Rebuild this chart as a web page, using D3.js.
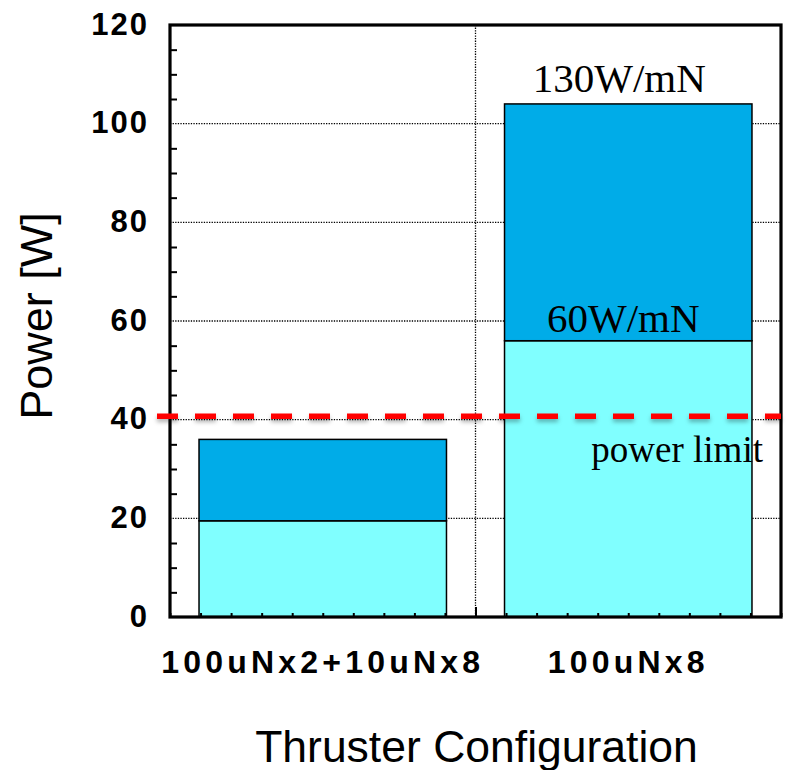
<!DOCTYPE html>
<html>
<head>
<meta charset="utf-8">
<script src="https://cdn.jsdelivr.net/npm/d3@7"></script>
<style>
  body { margin: 0; background: #fff; }
  svg { display: block; }
</style>
</head>
<body>
<div id="chart"></div>
<script>
// data
var categories = ["100uNx2+10uNx8", "100uNx8"];
var basePower = [19.5, 56];     // light cyan part
var extraPower = [16.5, 48];    // dark blue part on top
var yTickValues = [0, 20, 40, 60, 80, 100, 120];
var powerLimit = 40.7;
var specLabels = ["60W/mN", "130W/mN"];

// set the dimensions and margins of the graph
var margin = {top: 25, right: 6, bottom: 153, left: 170},
    width = 787 - margin.left - margin.right,
    height = 770 - margin.top - margin.bottom;

var x = d3.scaleBand().domain(categories).range([0, width])
    .paddingInner(0.19).paddingOuter(0.095);
var y = d3.scaleLinear().domain([0, 120]).range([height, 0]);
var xm = d3.scaleLinear().domain([0, 20]).range([0, width]);

var rows = categories.map(function(c, i) {
    return { cat: c, base: basePower[i], top: basePower[i] + extraPower[i] };
});

var svg = d3.select("#chart").append("svg")
    .attr("width", 787)
    .attr("height", 770);

// soft shadow under the red dashes (user space, the line has no height)
var defs = svg.append("defs");
var shadow = defs.append("filter").attr("id", "shadow")
    .attr("filterUnits", "userSpaceOnUse")
    .attr("x", -30).attr("y", -30).attr("width", 700).attr("height", 700);
shadow.append("feDropShadow")
    .attr("dx", 0).attr("dy", 3).attr("stdDeviation", 2)
    .attr("flood-color", "#000").attr("flood-opacity", 0.3);

var g = svg.append("g")
    .attr("transform", "translate(" + margin.left + "," + margin.top + ")");

// dotted grid
g.append("g").selectAll("line")
    .data(yTickValues.filter(function(v) { return v > 0 && v < 120; }))
    .enter().append("line")
    .attr("x1", 0).attr("x2", width)
    .attr("y1", function(d) { return y(d); })
    .attr("y2", function(d) { return y(d); })
    .attr("stroke", "#000").attr("stroke-width", 1.3)
    .attr("stroke-dasharray", "1.3,1.3");

g.append("line")
    .attr("x1", xm(10)).attr("x2", xm(10))
    .attr("y1", 0).attr("y2", height)
    .attr("stroke", "#000").attr("stroke-width", 1.3)
    .attr("stroke-dasharray", "1.3,1.3");

// stacked bars
g.append("g").selectAll("rect.base")
    .data(rows).enter().append("rect")
    .attr("class", "base")
    .attr("x", function(d) { return x(d.cat); })
    .attr("width", x.bandwidth())
    .attr("y", function(d) { return y(d.base); })
    .attr("height", function(d) { return y(0) - y(d.base); })
    .attr("fill", "#80ffff")
    .attr("stroke", "#000").attr("stroke-width", 1.5);

g.append("g").selectAll("rect.extra")
    .data(rows).enter().append("rect")
    .attr("class", "extra")
    .attr("x", function(d) { return x(d.cat); })
    .attr("width", x.bandwidth())
    .attr("y", function(d) { return y(d.top); })
    .attr("height", function(d) { return y(d.base) - y(d.top); })
    .attr("fill", "#00ace8")
    .attr("stroke", "#000").attr("stroke-width", 1.5);

// minor ticks on y
var yMinor = g.append("g")
    .call(d3.axisLeft(y)
        .tickValues(y.ticks(24).filter(function(v) { return v % 20 !== 0; }))
        .tickSize(-7).tickFormat(""));
yMinor.select(".domain").remove();
yMinor.selectAll("line").attr("stroke-width", 2);

// y labels
var yAxis = g.append("g")
    .call(d3.axisLeft(y).tickValues(yTickValues).tickSize(0).tickPadding(21));
yAxis.select(".domain").remove();
yAxis.selectAll("text")
    .attr("font-family", "Liberation Sans, Arial, sans-serif")
    .attr("font-weight", "bold")
    .attr("font-size", 31)
    .attr("letter-spacing", 2)
    .attr("dy", "0.3em")
    .attr("fill", "#000");

// minor ticks on x
var xMinor = g.append("g")
    .attr("transform", "translate(0," + height + ")")
    .call(d3.axisBottom(xm).ticks(20).tickSize(-4).tickFormat(""));
xMinor.select(".domain").remove();
xMinor.selectAll("line").attr("stroke-width", 2)
    .filter(function(d) { return d === 10; })
    .attr("y2", -10);

// x labels
var xAxis = g.append("g")
    .attr("transform", "translate(0," + height + ")")
    .call(d3.axisBottom(x).tickSize(0));
xAxis.select(".domain").remove();
xAxis.selectAll("text")
    .attr("y", 56).attr("dy", 0)
    .attr("font-family", "Liberation Sans, Arial, sans-serif")
    .attr("font-weight", "bold")
    .attr("font-size", 32)
    .attr("letter-spacing", 4.2)
    .attr("fill", "#000");

// frame
g.append("rect")
    .attr("width", width).attr("height", height)
    .attr("fill", "none").attr("stroke", "#000").attr("stroke-width", 3.2);

// power limit
g.append("line")
    .attr("x1", -13).attr("x2", width)
    .attr("y1", y(powerLimit)).attr("y2", y(powerLimit))
    .attr("stroke", "#ff0000").attr("stroke-width", 5.5)
    .attr("stroke-dasharray", "21,17")
    .attr("filter", "url(#shadow)");

var serif = "Liberation Serif, Times New Roman, serif";
var last = rows[1];
g.append("text")
    .attr("x", x(last.cat) + x.bandwidth() + 11)
    .attr("y", y(powerLimit) + 46)
    .attr("text-anchor", "end")
    .attr("font-family", serif).attr("font-size", 37)
    .text("power limit");

g.append("text")
    .attr("x", x(last.cat) + x.bandwidth() / 2 - 5)
    .attr("y", y(last.base) - 9)
    .attr("text-anchor", "middle")
    .attr("font-family", serif).attr("font-size", 41)
    .text(specLabels[0]);

g.append("text")
    .attr("x", x(last.cat) + x.bandwidth() / 2 - 9)
    .attr("y", y(last.top) - 12)
    .attr("text-anchor", "middle")
    .attr("font-family", serif).attr("font-size", 41)
    .text(specLabels[1]);

// axis titles
svg.append("text")
    .attr("transform", "translate(52,316) rotate(-90)")
    .attr("text-anchor", "middle")
    .attr("font-family", "Liberation Sans, Arial, sans-serif")
    .attr("font-size", 45)
    .text("Power [W]");

svg.append("text")
    .attr("x", margin.left + width / 2 + 1)
    .attr("y", 762)
    .attr("text-anchor", "middle")
    .attr("font-family", "Liberation Sans, Arial, sans-serif")
    .attr("font-size", 44.5)
    .text("Thruster Configuration");
</script>
</body>
</html>
